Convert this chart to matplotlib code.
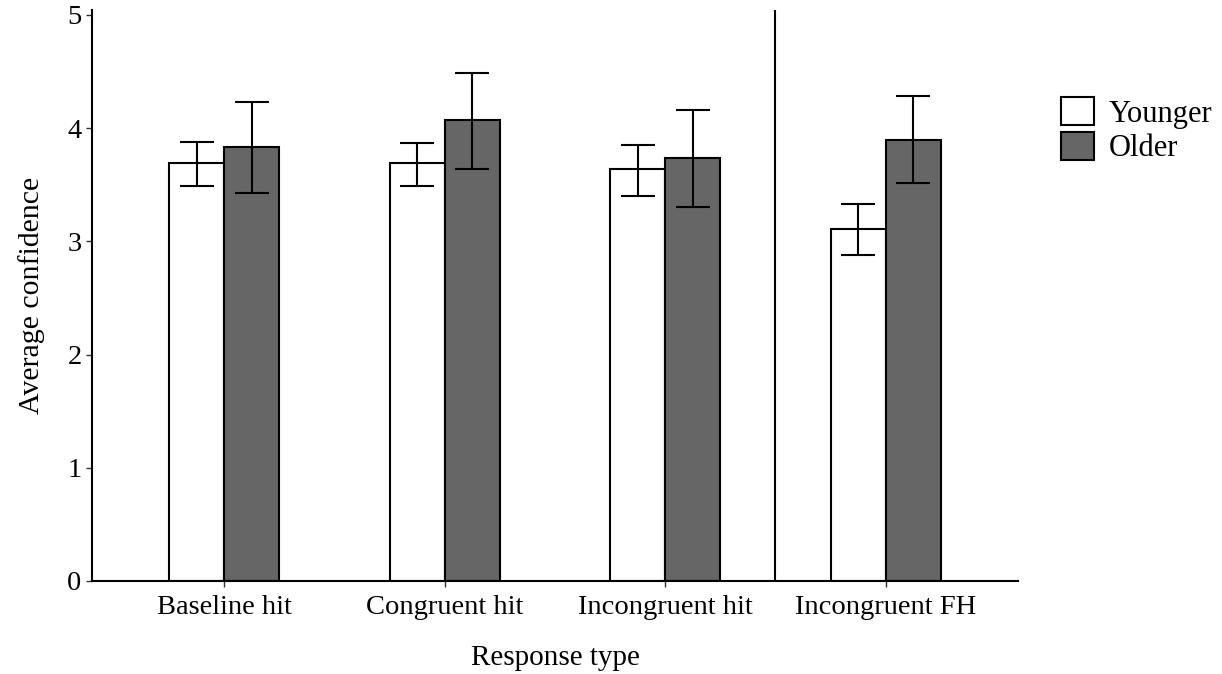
import matplotlib
matplotlib.use('Agg')
import matplotlib.pyplot as plt
import numpy as np

categories = ['Baseline hit', 'Congruent hit', 'Incongruent hit', 'Incongruent FH']
groups = ['Younger', 'Older']
younger_mean = [3.69, 3.69, 3.64, 3.11]
younger_lo = [3.49, 3.49, 3.40, 2.88]
younger_hi = [3.88, 3.87, 3.85, 3.33]
older_mean = [3.83, 4.07, 3.74, 3.90]
older_lo = [3.43, 3.64, 3.30, 3.52]
older_hi = [4.23, 4.49, 4.16, 4.28]

plt.rcParams['font.family'] = ['Liberation Serif', 'DejaVu Serif']

fig = plt.figure(figsize=(12.22, 6.74), dpi=100)
ax = fig.add_axes([92 / 1222, 93 / 674, (1018 - 92) / 1222, (581 - 10) / 674])

x = np.arange(1, len(categories) + 1)
w = 0.25
series = [
    (younger_mean, younger_lo, younger_hi, 'white', -w / 2),
    (older_mean, older_lo, older_hi, '#666666', w / 2),
]
for (m, lo, hi, col, off), name in zip(series, groups):
    m = np.array(m)
    yerr = [m - np.array(lo), np.array(hi) - m]
    ax.bar(x + off, m, width=w, color=col, edgecolor='black', linewidth=1.5, label=name)
    ax.errorbar(x + off, m, yerr=yerr, fmt='none', ecolor='black', elinewidth=1.5,
                capsize=12, capthick=1.5)

ax.axvline(3.5, color='black', linewidth=1.5)

ax.set_xlim(0.4, 4.6)
ax.set_ylim(0, 5.044)
ax.set_yticks([0, 1, 2, 3, 4, 5])
ax.set_xticks(x)
ax.set_xticklabels(categories)
ax.tick_params(axis='both', labelsize=20.5, color='#333333', length=4, width=1)
ax.tick_params(axis='x', pad=6)
ax.set_xlabel('Response type', fontsize=21, labelpad=18)
ax.set_ylabel('Average confidence', fontsize=21.5, labelpad=16)
for s in ['top', 'right']:
    ax.spines[s].set_visible(False)
for s in ['left', 'bottom']:
    ax.spines[s].set_linewidth(1.5)

ax.legend(loc='upper left', bbox_to_anchor=(1.033, 0.869), frameon=False, fontsize=22,
          handlelength=1.08, handleheight=1.05, handletextpad=0.5, labelspacing=0.1,
          borderaxespad=0)

fig.savefig('out.png', dpi=100)
